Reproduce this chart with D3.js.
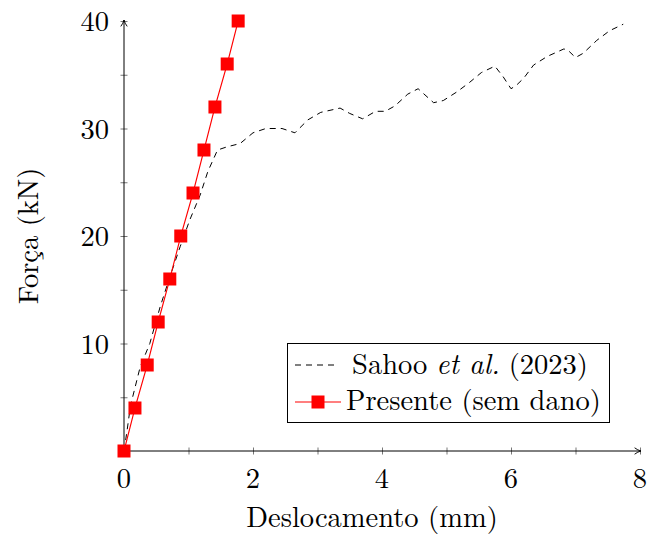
<!DOCTYPE html>
<html>
  <head>
    <meta charset="utf-8">
    <title>Força x Deslocamento</title>
    <script src="https://d3js.org/d3.v7.min.js"></script>
    <style>
      body { margin: 0; background: #fff; }
      .tick line { stroke: #777; }
    </style>
  </head>
  <body>
    <svg id="chart" width="650" height="536"></svg>
    <script>
      // data
      var sahoo = [
        [0, 0], [0.05, 2], [0.1, 4.2], [0.25, 7.8], [0.4, 10], [0.56, 13.4], [0.7, 16],
        [0.87, 19], [1.02, 21.5], [1.18, 23.8], [1.3, 26], [1.45, 28], [1.6, 28.3],
        [1.8, 28.6], [2.0, 29.6], [2.2, 30], [2.45, 30], [2.65, 29.6], [2.85, 30.8],
        [3.05, 31.5], [3.35, 31.9], [3.5, 31.4], [3.7, 30.9], [3.9, 31.6], [4.05, 31.6],
        [4.2, 32.1], [4.4, 33.2], [4.56, 33.7], [4.8, 32.4], [4.95, 32.6], [5.16, 33.4],
        [5.36, 34.3], [5.54, 35.2], [5.75, 35.8], [5.88, 34.8], [6.0, 33.7], [6.08, 34],
        [6.2, 34.7], [6.35, 35.9], [6.56, 36.7], [6.82, 37.4], [6.88, 37.3], [7.0, 36.6],
        [7.12, 37.0], [7.33, 38.2], [7.53, 39.1], [7.74, 39.7]
      ];
      var presenteX = [0, 0.17, 0.36, 0.53, 0.71, 0.88, 1.07, 1.24, 1.41, 1.60, 1.77];
      var presenteY = [0, 4, 8, 12, 16, 20, 24, 28, 32, 36, 40];
      var xTicks = [0, 1, 2, 3, 4, 5, 6, 7, 8];
      var xLabels = [0, 2, 4, 6, 8];
      var yTicks = [5, 10, 15, 20, 25, 30, 35, 40];
      var yLabels = [10, 20, 30, 40];

      var serif = "'Latin Modern Roman', 'CMU Serif', 'Liberation Serif', 'DejaVu Serif', 'Times New Roman', Times, serif";
      var fs = 28.5;
      var svg = d3.select("#chart").attr("font-family", serif);

      var x = d3.scaleLinear().domain([0, 8]).range([124, 640]);
      var y = d3.scaleLinear().domain([0, 40]).range([451, 21]);

      // arrow marker
      svg.append("defs").append("marker")
        .attr("id", "arrow")
        .attr("viewBox", "0 0 10 10")
        .attr("refX", 9).attr("refY", 5)
        .attr("markerWidth", 8).attr("markerHeight", 8)
        .attr("markerUnits", "userSpaceOnUse")
        .attr("orient", "auto")
        .append("path")
          .attr("d", "M1,1 Q5,4 9,5 Q5,6 1,9")
          .attr("fill", "none")
          .attr("stroke", "#000")
          .attr("stroke-width", 1.2);

      // ticks
      var xAxis = svg.append("g")
        .attr("transform", "translate(0," + y(0) + ")")
        .call(d3.axisBottom(x).tickValues(xTicks).tickSize(7).tickFormat(""));
      xAxis.select(".domain").remove();
      xAxis.selectAll(".tick line").attr("y1", -3.5).attr("y2", 3.5);

      var yAxis = svg.append("g")
        .attr("transform", "translate(" + x(0) + ",0)")
        .call(d3.axisLeft(y).tickValues(yTicks).tickSize(7).tickFormat(""));
      yAxis.select(".domain").remove();
      yAxis.selectAll(".tick line").attr("x1", -3.5).attr("x2", 3.5);

      // tick labels
      svg.append("g").selectAll("text")
        .data(xLabels)
        .join("text")
          .attr("x", function(d) { return x(d); })
          .attr("y", 488)
          .attr("text-anchor", "middle")
          .attr("font-family", serif)
          .attr("font-size", fs)
          .text(function(d) { return d; });
      svg.append("g").selectAll("text")
        .data(yLabels)
        .join("text")
          .attr("x", 109)
          .attr("y", function(d) { return y(d) + 10; })
          .attr("text-anchor", "end")
          .attr("font-family", serif)
          .attr("font-size", fs)
          .text(function(d) { return d; });

      // axis lines with arrows
      svg.append("line")
        .attr("x1", x(0)).attr("x2", x(8) + 1)
        .attr("y1", y(0)).attr("y2", y(0))
        .attr("stroke", "#000").attr("stroke-width", 1)
        .attr("marker-end", "url(#arrow)");
      svg.append("line")
        .attr("x1", x(0)).attr("x2", x(0))
        .attr("y1", y(0)).attr("y2", y(40) - 1)
        .attr("stroke", "#000").attr("stroke-width", 1)
        .attr("marker-end", "url(#arrow)");

      // series
      var line = d3.line();
      svg.append("path")
        .attr("d", line(sahoo.map(function(d) { return [x(d[0]), y(d[1])]; })))
        .attr("fill", "none")
        .attr("stroke", "#000")
        .attr("stroke-width", 1)
        .attr("stroke-dasharray", "6,5");

      var pres = presenteX.map(function(d, i) { return [x(d), y(presenteY[i])]; });
      svg.append("path")
        .attr("d", line(pres))
        .attr("fill", "none")
        .attr("stroke", "#f00")
        .attr("stroke-width", 1.1);
      svg.append("g").selectAll("rect")
        .data(pres)
        .join("rect")
          .attr("x", function(d) { return d[0] - 6.5; })
          .attr("y", function(d) { return d[1] - 6.5; })
          .attr("width", 13).attr("height", 13)
          .attr("fill", "#f00");

      // axis titles
      svg.append("text")
        .attr("x", 372).attr("y", 527)
        .attr("text-anchor", "middle")
        .attr("font-family", serif)
        .attr("font-size", fs)
        .text("Deslocamento (mm)");
      svg.append("text")
        .attr("transform", "translate(38," + y(20) + ") rotate(-90)")
        .attr("text-anchor", "middle")
        .attr("font-family", serif)
        .attr("font-size", fs)
        .text("Força (kN)");

      // legend
      var legend = svg.append("g");
      legend.append("rect")
        .attr("x", 287.5).attr("y", 343.5)
        .attr("width", 322).attr("height", 79)
        .attr("fill", "#fff").attr("stroke", "#000").attr("stroke-width", 1);
      legend.append("line")
        .attr("x1", 295).attr("x2", 337).attr("y1", 365).attr("y2", 365)
        .attr("stroke", "#000").attr("stroke-dasharray", "6,5");
      legend.append("line")
        .attr("x1", 295).attr("x2", 341).attr("y1", 402).attr("y2", 402)
        .attr("stroke", "#f00").attr("stroke-width", 1.1);
      legend.append("rect")
        .attr("x", 311.5).attr("y", 395.5).attr("width", 13).attr("height", 13)
        .attr("fill", "#f00");

      // first legend entry as three pieces laid side by side
      var parts = [
        { text: "Sahoo", italic: false },
        { text: "et al.", italic: true },
        { text: "(2023)", italic: false }
      ];
      var gap = 9;
      var pieces = parts.map(function(p) {
        return legend.append("text")
          .attr("y", 374)
          .attr("font-family", serif)
          .attr("font-size", fs)
          .attr("font-style", p.italic ? "italic" : "normal")
          .text(p.text);
      });
      var widths = pieces.map(function(t) { return t.node().getComputedTextLength(); });
      var cursor = 470 - (d3.sum(widths) + gap * 2) / 2;
      pieces.forEach(function(t, i) {
        t.attr("x", cursor);
        cursor += widths[i] + gap;
      });

      legend.append("text")
        .attr("x", 346).attr("y", 410)
        .attr("font-family", serif)
        .attr("font-size", fs)
        .text("Presente (sem dano)");
    </script>
  </body>
</html>
